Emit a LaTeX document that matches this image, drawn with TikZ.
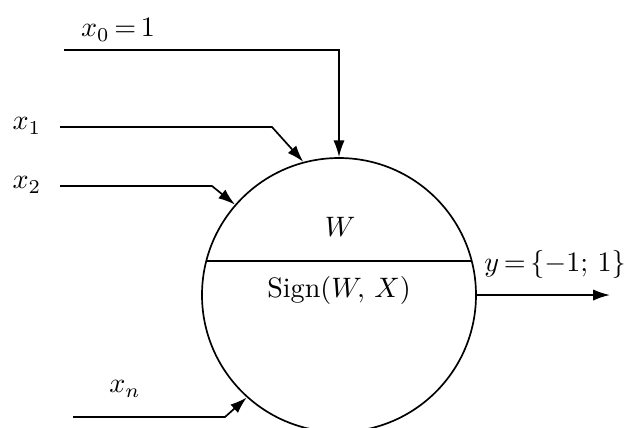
\documentclass[tikz,border=0pt]{standalone}
\usepackage{tikz}
\usetikzlibrary{arrows.meta, positioning, calc}
\tikzset{
    neuronbox/.style={
        circle,
        draw=black,
        line width=0.6pt,
        minimum size=34.25mm,
        inner sep=0pt
    },
    inlabel/.style={inner sep=1pt, font=\normalsize},
    inarrow/.style={-{Latex[length=2.1mm, width=1.4mm]}, line width=0.6pt, draw=black},
    outarrow/.style={-{Latex[length=2.1mm, width=1.4mm]}, line width=0.6pt, draw=black}
}
\begin{document}
\begin{tikzpicture}[x=0.125mm, y=-0.125mm]
    \useasboundingbox (0,0) rectangle (624,427);
    % neuron
    \node[neuronbox] (neuron) at (339,295) {};
    \coordinate (splitL) at (206,261);
    \coordinate (splitR) at (472,261);
    \draw[line width=0.6pt] (splitL) -- (splitR);
    \node[inlabel] (weight) at (340,227) {$W$};
    \node[inlabel] (sign) at (339,290) {Sign$(W,\,X)$};
    % inputs
    \node[inlabel] (lx0) at (118,30) {$x_0\,{=}\,1$};
    \node[inlabel] (lx1) at (27,126) {$x_1$};
    \node[inlabel] (lx2) at (27,185) {$x_2$};
    \node[inlabel] (lxn) at (125,389) {$x_n$};
    \coordinate (s0) at (64,50);
    \coordinate (b0) at (339,50);
    \coordinate (s1) at (60,127);
    \coordinate (b1) at (272,127);
    \coordinate (s2) at (60,186);
    \coordinate (b2) at (212,186);
    \coordinate (sn) at (73,417);
    \coordinate (bn) at (225,417);
    \draw[inarrow] (s0) -- (b0) -- (neuron.north);
    \draw[inarrow] (s1) -- (b1) -- (neuron.105);
    \draw[inarrow] (s2) -- (b2) -- (neuron.139);
    \draw[inarrow] (sn) -- (bn) -- (neuron.228);
    % output
    \coordinate (out) at (610,295);
    \node[inlabel] (ly) at (555,264) {$y\,{=}\,\{-1;\,1\}$};
    \draw[outarrow] (neuron.east) -- (out);
\end{tikzpicture}
\end{document}
